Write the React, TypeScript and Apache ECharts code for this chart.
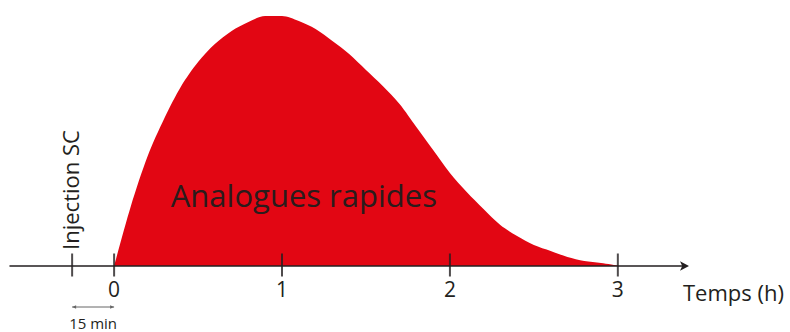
import React, { useEffect, useRef } from "react";
import * as echarts from "echarts";

// Time after injection (h) and insulin action level (arbitrary units)
const hours = [0, 0.1, 0.2, 0.3, 0.4, 0.5, 0.6, 0.7, 0.8, 0.9, 1.0, 1.1, 1.2, 1.3, 1.4, 1.5, 1.6, 1.7, 1.8, 1.9, 2.0, 2.1, 2.2, 2.3, 2.4, 2.5, 2.6, 2.7, 2.8, 2.9, 3.0];
const level = [0, 60, 110, 148, 180, 204, 222, 235, 244, 250, 250, 245, 237, 225, 212, 196, 180, 162, 139, 116, 93, 74, 57, 41, 30, 21, 15, 9, 5, 3, 0.5];

const tickHours = [-0.25, 0, 1, 2, 3];
const labelHours = [0, 1, 2, 3];
const injectionHour = -0.25;

const seriesName = "Analogues rapides";
const axisName = "Temps (h)";
const injectionLabel = "Injection SC";
const delayLabel = "15 min";

const RED = "#e20613";
const INK = "#231f20";
const FONT = "'Open Sans', 'Noto Sans', sans-serif";

export default function App() {
  const ref = useRef<HTMLDivElement>(null);

  useEffect(() => {
    if (!ref.current) return;
    const chart = echarts.init(ref.current, null, { renderer: "svg" });
    const option: any = {
      animation: false,
      grid: { left: 10, right: 105, top: 16, bottom: 66 },
      xAxis: {
        type: "value",
        min: -0.62,
        max: 3.4,
        z: 5,
        axisLine: {
          show: true,
          symbol: ["none", "arrow"],
          symbolSize: [7, 9],
          symbolOffset: [0, 4],
          lineStyle: { color: INK, width: 1.5 },
        },
        axisTick: { show: false },
        splitLine: { show: false },
        axisLabel: {
          customValues: labelHours,
          formatter: (v: number) => String(v),
          color: INK,
          fontSize: 21,
          fontFamily: FONT,
          margin: 12,
        },
      },
      yAxis: {
        type: "value",
        min: 0,
        max: 250,
        show: false,
      },
      series: [
        {
          name: seriesName,
          type: "line",
          data: hours.map((h, i) => [h, level[i]]),
          smooth: 0.3,
          showSymbol: false,
          lineStyle: { width: 0, color: RED },
          areaStyle: { color: RED, opacity: 1 },
          z: 2,
        },
        {
          type: "scatter",
          data: tickHours.map((h) => [h, 0]),
          symbol: "rect",
          symbolSize: [2, 23],
          symbolOffset: [0, -1],
          itemStyle: { color: INK },
          z: 6,
          silent: true,
        },
      ],
    };
    chart.setOption(option);

    const P = (x: number, y: number) => chart.convertToPixel({ gridIndex: 0 }, [x, y]) as number[];
    const [xi, yAxisPx] = P(injectionHour, 0);
    const [x0] = P(0, 0);
    const [, yInj] = P(injectionHour, 76);
    const [xa, ya] = P(1.13, 71);
    const [xEnd] = P(3.4, 0);
    const ay = yAxisPx + 41;

    chart.setOption({
      graphic: [
        {
          type: "text",
          z: 20,
          x: xi - 2,
          y: yInj,
          rotation: Math.PI / 2,
          style: {
            text: injectionLabel,
            fill: INK,
            fontSize: 22,
            fontFamily: FONT,
            align: "center",
            verticalAlign: "middle",
          },
        },
        {
          type: "text",
          z: 20,
          x: xa,
          y: ya,
          style: {
            text: seriesName,
            fill: "#2a1c1c",
            fontSize: 31,
            fontFamily: FONT,
            align: "center",
            verticalAlign: "middle",
          },
        },
        {
          type: "text",
          z: 20,
          x: xEnd - 2,
          y: yAxisPx + 26,
          style: {
            text: axisName,
            fill: INK,
            fontSize: 22,
            fontFamily: FONT,
            align: "left",
            verticalAlign: "middle",
          },
        },
        {
          type: "line",
          z: 20,
          shape: { x1: xi, y1: ay, x2: x0, y2: ay },
          style: { stroke: "#666", lineWidth: 1 },
        },
        {
          type: "polygon",
          z: 20,
          shape: { points: [[xi, ay], [xi + 4, ay - 1.8], [xi + 4, ay + 1.8]] },
          style: { fill: "#666" },
        },
        {
          type: "polygon",
          z: 20,
          shape: { points: [[x0, ay], [x0 - 4, ay - 1.8], [x0 - 4, ay + 1.8]] },
          style: { fill: "#666" },
        },
        {
          type: "text",
          z: 20,
          x: (xi + x0) / 2,
          y: yAxisPx + 57,
          style: {
            text: delayLabel,
            fill: INK,
            fontSize: 15,
            fontFamily: FONT,
            align: "center",
            verticalAlign: "middle",
          },
        },
      ],
    });

    return () => chart.dispose();
  }, []);

  return (
    <div
      ref={ref}
      style={{ position: "absolute", left: 0, top: 0, width: 790, height: 332, background: "#fff" }}
    />
  );
}
